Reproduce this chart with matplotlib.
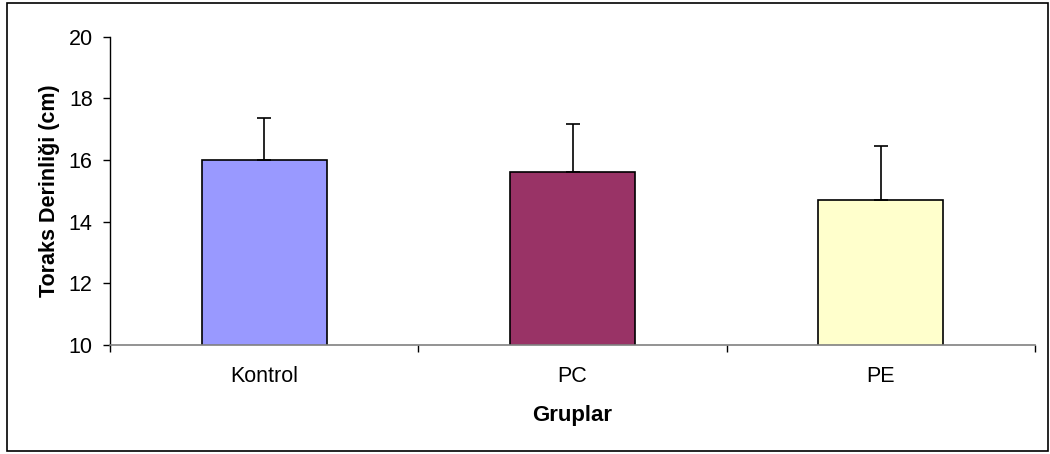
import matplotlib
matplotlib.use("Agg")
import matplotlib.pyplot as plt
from matplotlib.patches import Rectangle

categories = ["Kontrol", "PC", "PE"]
means = [16.0, 15.6, 14.7]
sd_upper = [1.37, 1.57, 1.76]
colors = ["#9999FF", "#993366", "#FFFFCC"]
yticks = [10, 12, 14, 16, 18, 20]

plt.rcParams['font.family'] = ['Liberation Sans', 'DejaVu Sans']

fig = plt.figure(figsize=(10.5, 4.54), dpi=100)
W, H = 1050, 454
ax = fig.add_axes([110 / W, 1 - 345 / H, (1035 - 110) / W, (345 - 36.7) / H])

x = list(range(len(categories)))
ax.bar(x, means, width=0.405, color=colors, edgecolor="black", linewidth=1.2,
       bottom=0, zorder=2)
ax.errorbar(x, means, yerr=[[0] * len(means), sd_upper], fmt="none",
            ecolor="black", elinewidth=1.2, capsize=4.8, capthick=1.2, zorder=3)

ax.set_xlim(-0.5, 2.5)
ax.set_ylim(10, 20)
ax.set_yticks(yticks)
ax.set_yticklabels([str(t) for t in yticks], fontsize=15.5)
ax.set_xticks(x)
ax.set_xticklabels(categories, fontsize=15.5)
ax.tick_params(axis="x", which="major", length=0, pad=15)
ax.set_xticks([-0.5, 0.5, 1.5, 2.5], minor=True)
ax.tick_params(axis="x", which="minor", length=5, direction="out", color="black", width=1)
ax.tick_params(axis="y", length=5, direction="out", width=1, pad=7.5)

for s in ["top", "right"]:
    ax.spines[s].set_visible(False)
ax.spines["bottom"].set_color("#808080")
ax.spines["bottom"].set_linewidth(1.2)
ax.spines["left"].set_color("black")
ax.spines["left"].set_linewidth(1.0)

ax.set_ylabel("Toraks Derinliği (cm)", fontsize=15.5, fontweight="bold", labelpad=6)
ax.set_xlabel("Gruplar", fontsize=16, fontweight="bold", labelpad=13)

fig.patches.append(Rectangle((7 / W, 1 - 451 / H), (1048 - 7) / W, (451 - 3) / H,
                             transform=fig.transFigure, fill=False,
                             edgecolor="black", linewidth=1.2))

fig.savefig("out.png", dpi=100)
